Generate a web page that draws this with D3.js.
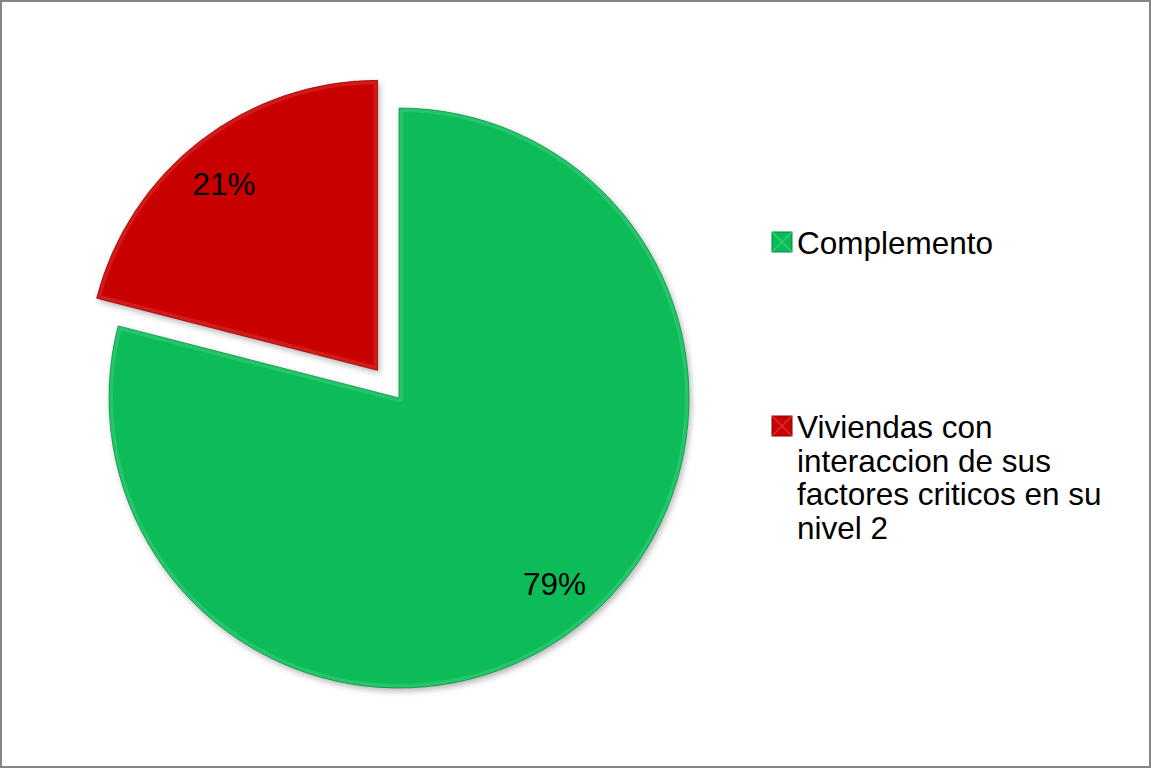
<!DOCTYPE html>
<html>
<head>
<meta charset="utf-8">
<script src="https://cdn.jsdelivr.net/npm/d3@7"></script>
<style>
  body { margin: 0; background: #fff; }
  svg { display: block; font-family: "Liberation Sans", Arial, sans-serif; }
</style>
</head>
<body>
<div id="vis-container"></div>
<script>
// data
var categories = ["Complemento", "Viviendas con interaccion de sus factores criticos en su nivel 2"];
var values = [79, 21];
var colors = ["#0abb59", "#c90303"];
var lightColors = ["#4fdc8a", "#e84848"];
var darkColors = ["#06863f", "#870202"];
var legendLines = [["Complemento"], ["Viviendas con", "interaccion de sus", "factores criticos en su", "nivel 2"]];
var explode = [0, 35];

var width = 1151, height = 769;
var cx = 399, cy = 398, radius = 290;

var svg = d3.select("#vis-container")
  .append("svg")
  .attr("width", width)
  .attr("height", height);

// frame
svg.append("rect")
  .attr("x", 1).attr("y", 1)
  .attr("width", 1149).attr("height", 766)
  .attr("fill", "#fff")
  .attr("stroke", "#868686")
  .attr("stroke-width", 2);

var defs = svg.append("defs");
var shadow = defs.append("filter").attr("id", "shadow")
  .attr("x", "-10%").attr("y", "-10%").attr("width", "120%").attr("height", "120%");
shadow.append("feDropShadow")
  .attr("dx", 2).attr("dy", 3).attr("stdDeviation", 3)
  .attr("flood-color", "#000").attr("flood-opacity", 0.3);

var pie = d3.pie().sort(null).value(function (d) { return d; });
var arcs = pie(values);
var arc = d3.arc().innerRadius(0).outerRadius(radius);
var labelArc = d3.arc().innerRadius(radius * 0.83).outerRadius(radius * 0.83);
var total = d3.sum(values);

var g = svg.append("g").attr("transform", "translate(" + cx + "," + cy + ")");

var slices = g.selectAll("g.slice")
  .data(arcs)
  .enter()
  .append("g")
  .attr("class", "slice")
  .attr("transform", function (d, i) {
    var mid = (d.startAngle + d.endAngle) / 2;
    return "translate(" + (Math.sin(mid) * explode[i]) + "," + (-Math.cos(mid) * explode[i]) + ")";
  });

slices.each(function (d, i) {
  var s = d3.select(this);
  var clipId = "clip" + i;
  defs.append("clipPath").attr("id", clipId)
    .append("path").attr("d", arc(d));

  s.append("path")
    .attr("d", arc(d))
    .attr("fill", colors[i])
    .attr("filter", "url(#shadow)");

  // bevel: light inner rim then darker outline
  s.append("path")
    .attr("d", arc(d))
    .attr("fill", "none")
    .attr("stroke", lightColors[i])
    .attr("stroke-width", 8)
    .attr("stroke-opacity", 0.35)
    .attr("stroke-linejoin", "round")
    .attr("clip-path", "url(#" + clipId + ")");
  s.append("path")
    .attr("d", arc(d))
    .attr("fill", "none")
    .attr("stroke", darkColors[i])
    .attr("stroke-width", 1)
    .attr("stroke-opacity", 0.7);

  var c = labelArc.centroid(d);
  s.append("text")
    .attr("x", c[0] + (i === 0 ? 8 : -6))
    .attr("y", c[1] + (i === 0 ? -5 : 3))
    .attr("text-anchor", "middle")
    .attr("dy", "0.36em")
    .attr("font-size", 31.5)
    .attr("fill", "#000")
    .text(Math.round(d.value / total * 100) + "%");
});

// legend
var legendY = [232, 416];
var legend = svg.append("g").attr("class", "legend");
categories.forEach(function (cat, i) {
  var item = legend.append("g").attr("transform", "translate(772," + legendY[i] + ")");
  item.append("rect")
    .attr("width", 20).attr("height", 20)
    .attr("fill", colors[i])
    .attr("stroke", darkColors[i])
    .attr("stroke-width", 1);
  item.append("path")
    .attr("d", "M0,0L10,10L20,0M0,20L10,10L20,20")
    .attr("fill", "none")
    .attr("stroke", lightColors[i])
    .attr("stroke-width", 1.5)
    .attr("stroke-opacity", 0.6);
  var t = item.append("text")
    .attr("x", 25)
    .attr("y", 22)
    .attr("font-size", 31.5)
    .attr("fill", "#000");
  legendLines[i].forEach(function (line, j) {
    t.append("tspan").attr("x", 25).attr("y", 22 + j * 33.5).text(line);
  });
});
</script>
</body>
</html>
